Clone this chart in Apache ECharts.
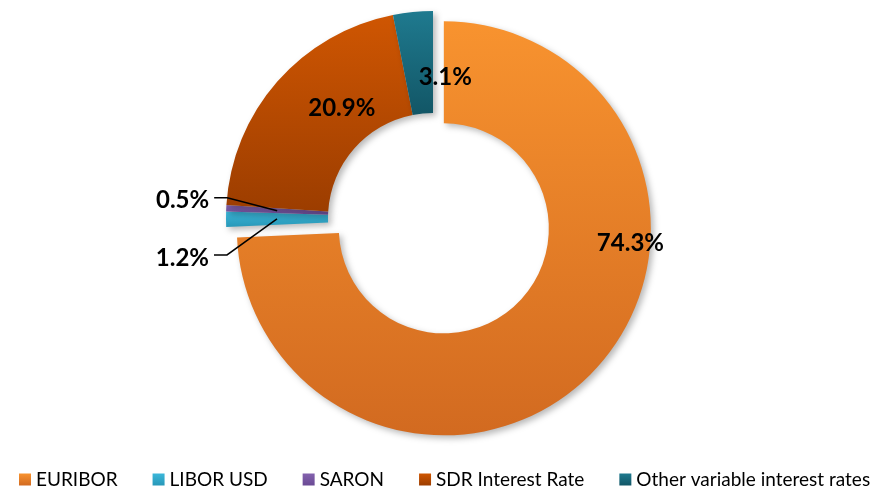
<!DOCTYPE html>
<html>
<head>
<meta charset="utf-8">
<script src="https://cdn.jsdelivr.net/npm/echarts@6/dist/echarts.min.js"></script>
<style>
  html, body { margin: 0; padding: 0; background: #fff; }
  #chart { width: 878px; height: 491px; }
</style>
</head>
<body>
<div id="chart"></div>
<script>
// Share of variable-rate exposure by reference interest rate (%)
const categories = ['EURIBOR', 'LIBOR USD', 'SARON', 'SDR Interest Rate', 'Other variable interest rates'];
const shares = [74.3, 1.2, 0.5, 20.9, 3.1];

// top / bottom shades of each slice
const topColors = ['#F8932F', '#3BB7DA', '#8462AE', '#CF5602', '#1F7A8F'];
const bottomColors = ['#D26A20', '#2898B8', '#6A4A94', '#9C3D00', '#125666'];

const CENTER = [433, 218];
const R_IN = 105;
const R_OUT = 207;
const PULL_OUT = 15;          // how far the EURIBOR slice is pulled away
const CLEAR = 'rgba(0,0,0,0)';

function shade(i) {
  return new echarts.graphic.LinearGradient(0, 0, 0, 1, [
    { offset: 0, color: topColors[i] },
    { offset: 1, color: bottomColors[i] }
  ]);
}

function polar(angleDeg, r) {
  const a = angleDeg * Math.PI / 180;
  return [CENTER[0] + r * Math.cos(a), CENTER[1] - r * Math.sin(a)];
}

const total = shares.reduce((a, b) => a + b, 0);
const rest = total - shares[0];

// centre of the pulled-out EURIBOR slice, moved along its bisector
const euriborMid = (90 - (shares[0] / total) * 180) * Math.PI / 180;
const euriborCenter = [
  CENTER[0] + PULL_OUT * Math.cos(euriborMid),
  CENTER[1] - PULL_OUT * Math.sin(euriborMid)
];

// label anchors for the in-ring labels (angle in degrees, radius)
const innerLabelSpots = { 0: [-7.2, 199], 3: [129.6, 143], 4: [85, 141] };

const sliceShadow = {
  shadowBlur: 6,
  shadowOffsetX: 3,
  shadowOffsetY: 3,
  shadowColor: 'rgba(0,0,0,0.28)'
};
const gap = { name: '', itemStyle: { color: CLEAR, shadowColor: CLEAR } };

const common = {
  type: 'pie',
  radius: [R_IN, R_OUT],
  startAngle: 90,
  clockwise: true,
  silent: true,
  avoidLabelOverlap: false,
  emphasis: { disabled: true }
};

const chart = echarts.init(document.getElementById('chart'));

chart.setOption({
  animation: false,
  legend: {
    bottom: 2,
    left: 19,
    width: 870,
    padding: 0,
    icon: 'rect',
    itemWidth: 12,
    itemHeight: 12,
    itemGap: 35,
    selectedMode: false,
    textStyle: { fontFamily: 'Lato', fontSize: 19, color: '#000' },
    data: categories
  },
  series: [
    // EURIBOR, pulled out of the ring
    Object.assign({}, common, {
      center: euriborCenter,
      label: { show: false },
      itemStyle: sliceShadow,
      data: [
        { name: categories[0], value: shares[0], itemStyle: { color: shade(0) } },
        Object.assign({ value: rest }, gap)
      ]
    }),
    // the remaining slices
    Object.assign({}, common, {
      center: CENTER,
      label: { show: false },
      itemStyle: sliceShadow,
      data: [Object.assign({ value: shares[0] }, gap)].concat(
        categories.slice(1).map((name, k) => ({
          name, value: shares[k + 1], itemStyle: { color: shade(k + 1) }
        }))
      )
    }),
    // value labels and leader lines, drawn above every slice
    Object.assign({}, common, {
      center: CENTER,
      z: 5,
      itemStyle: { color: CLEAR },
      label: {
        show: true,
        formatter: p => p.value.toFixed(1) + '%',
        fontFamily: 'Lato',
        fontWeight: 'bold',
        fontSize: 24,
        color: '#000'
      },
      labelLine: { lineStyle: { color: '#000', width: 1.5 } },
      labelLayout: function (params) {
        const i = params.dataIndex;
        if (innerLabelSpots[i]) {
          const s = innerLabelSpots[i];
          const p = polar(s[0], s[1]);
          return { x: p[0], y: p[1], align: 'center', verticalAlign: 'middle' };
        }
        // pull the leader start from the outer rim into the middle of the ring
        const rim = params.labelLinePoints[0];
        const k = (R_IN + R_OUT) / 2 / R_OUT;
        const start = [CENTER[0] + (rim[0] - CENTER[0]) * k, CENTER[1] + (rim[1] - CENTER[1]) * k];
        const drop = i === 2 ? -13 : 36;
        const elbow = [start[0] - 50, start[1] + drop];
        const end = [elbow[0] - 13, elbow[1]];
        return {
          x: end[0] - 5,
          y: end[1] + 3,
          align: 'right',
          verticalAlign: 'middle',
          labelLinePoints: [start, elbow, end]
        };
      },
      data: categories.map((name, i) => {
        const small = i === 1 || i === 2;
        return {
          name,
          value: shares[i],
          label: { position: small ? 'outside' : 'inside' },
          labelLine: { show: small }
        };
      })
    })
  ]
});
</script>
</body>
</html>
